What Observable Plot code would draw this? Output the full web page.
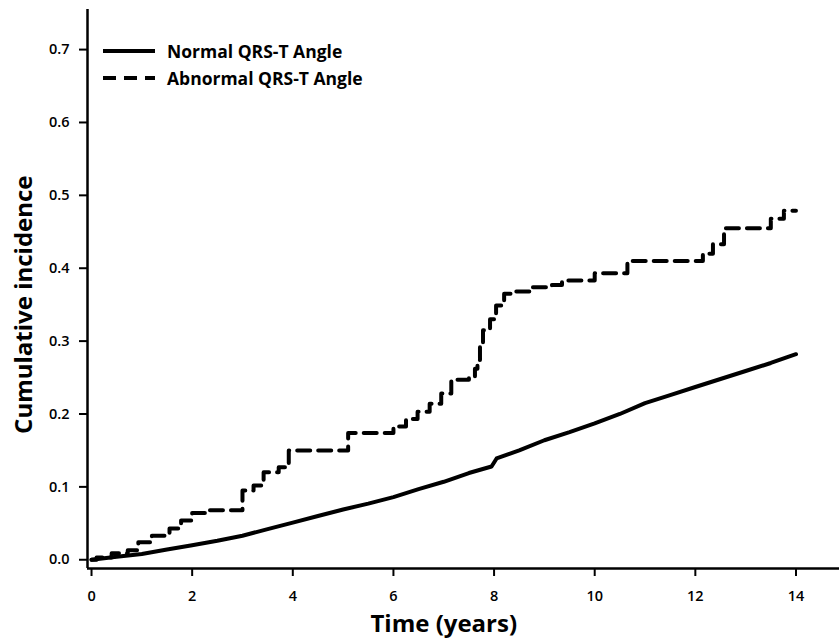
<!DOCTYPE html>
<html><head><meta charset="utf-8">
<script src="https://cdn.jsdelivr.net/npm/d3@7"></script>
<script src="https://cdn.jsdelivr.net/npm/@observablehq/plot@0.6"></script>
<style>
body{margin:0;background:#fff;}
#wrap{position:relative;width:839px;height:640px;font-family:"Open Sans",sans-serif;}
#legend{position:absolute;left:103px;top:37px;}
.item{display:flex;align-items:center;height:27px;font-weight:700;font-size:17.5px;color:#000;}
.item svg{margin-right:12px;}
</style></head><body><div id="wrap"><div id="chart"></div><div id="legend"></div></div>
<script>
const seriesNames = ["Normal QRS-T Angle", "Abnormal QRS-T Angle"];
const normalTime = [0, 0.5, 1, 1.5, 2, 2.5, 3, 3.5, 4, 4.5, 5, 5.5, 6, 6.5, 7, 7.5, 7.95, 8.05, 8.5, 9, 9.5, 10, 10.5, 11, 11.5, 12, 12.5, 13, 13.5, 14];
const normalIncidence = [0, 0.004, 0.008, 0.014, 0.020, 0.026, 0.033, 0.042, 0.051, 0.060, 0.069, 0.077, 0.086, 0.097, 0.107, 0.119, 0.128, 0.139, 0.150, 0.164, 0.175, 0.187, 0.200, 0.215, 0.226, 0.237, 0.248, 0.259, 0.270, 0.282];
const abnormalTime = [0, 0.1, 0.4, 0.72, 0.93, 1.2, 1.55, 1.78, 2.0, 2.35, 3.0, 3.22, 3.42, 3.72, 3.92, 5.1, 6.0, 6.25, 6.48, 6.72, 6.95, 7.15, 7.5, 7.62, 7.67, 7.72, 7.78, 7.92, 8.04, 8.2, 8.33, 8.7, 9.15, 9.35, 10.0, 10.65, 12.15, 12.35, 12.57, 13.5, 13.76, 14.0];
const abnormalIncidence = [0, 0.003, 0.009, 0.013, 0.024, 0.033, 0.043, 0.054, 0.064, 0.068, 0.095, 0.102, 0.120, 0.127, 0.150, 0.174, 0.183, 0.193, 0.203, 0.214, 0.228, 0.247, 0.250, 0.262, 0.274, 0.292, 0.315, 0.330, 0.349, 0.365, 0.368, 0.374, 0.377, 0.383, 0.393, 0.410, 0.420, 0.433, 0.455, 0.468, 0.479, 0.479];
const xTicks = [0, 2, 4, 6, 8, 10, 12, 14];
const yTicks = [0, 0.1, 0.2, 0.3, 0.4, 0.5, 0.6, 0.7];
const xLabel = "Time (years)";
const yLabel = "Cumulative incidence";

const normal = normalTime.map((t, i) => ({t, v: normalIncidence[i]}));
const abnormal = abnormalTime.map((t, i) => ({t, v: abnormalIncidence[i]}));
const xDomain = [-0.08, 14.865];
const yDomain = [-0.012, 0.755];
const dash = "13,8";

const chart = Plot.plot({
  width: 839, height: 640,
  marginLeft: 87, marginRight: 0, marginTop: 9, marginBottom: 72,
  style: {fontFamily: "Open Sans, sans-serif", fontSize: "14.5px", fontWeight: 600, background: "white", color: "black"},
  x: {domain: xDomain},
  y: {domain: yDomain},
  marks: [
    Plot.axisX({ticks: xTicks, tickSize: 8, tickPadding: 14, strokeWidth: 2, label: null}),
    Plot.axisY({ticks: yTicks, tickSize: 8, tickPadding: 10, strokeWidth: 2, tickFormat: d3.format(".1f"), label: null}),
    Plot.ruleX([xDomain[0]], {strokeWidth: 2.5}),
    Plot.ruleY([yDomain[0]], {strokeWidth: 2.5}),
    Plot.line(normal, {x: "t", y: "v", strokeWidth: 4, stroke: "black"}),
    Plot.line(abnormal, {x: "t", y: "v", curve: "step-after", strokeWidth: 4, stroke: "black", strokeDasharray: dash}),
    Plot.text([xLabel], {x: 7, frameAnchor: "bottom", lineAnchor: "middle", textAnchor: "middle", dy: 56, fontSize: 24, fontWeight: 700, text: d => d}),
    Plot.text([yLabel], {y: 0.35, frameAnchor: "left", lineAnchor: "middle", textAnchor: "middle", dx: -63, rotate: -90, fontSize: 24, fontWeight: 700, text: d => d})
  ]
});
document.getElementById("chart").appendChild(chart);

const legend = document.getElementById("legend");
seriesNames.forEach((name, i) => {
  const row = document.createElement("div");
  row.className = "item";
  row.innerHTML = `<svg width="52" height="10"><line x1="0" x2="52" y1="5" y2="5" stroke="black" stroke-width="4" ${i === 1 ? `stroke-dasharray="${dash}"` : ""}/></svg><span>${name}</span>`;
  legend.appendChild(row);
});
</script></body></html>
